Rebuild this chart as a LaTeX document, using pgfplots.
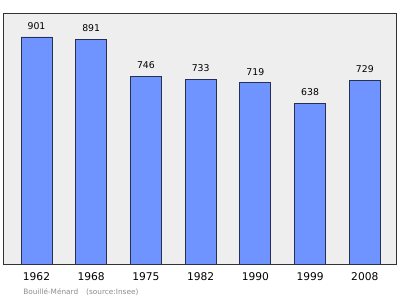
\documentclass[border=0pt]{standalone}
\usepackage{pgfplots}
\pgfplotsset{compat=1.18}
\usepackage{fontspec}
\setmainfont{DejaVu Sans}
\definecolor{bg}{RGB}{238,238,238}
\definecolor{barfill}{RGB}{111,148,255}
\definecolor{bardraw}{RGB}{40,48,80}
\begin{document}
\begin{tikzpicture}
\begin{axis}[
  name=ax,
  scale only axis,
  width=294pt, height=188.25pt,
  xmin=-0.594, xmax=6.57,
  ymin=0, ymax=996,
  axis background/.style={fill=bg},
  axis line style={draw=black!80, line width=0.75pt},
  ytick=\empty,
  xtick={0,1,2,3,4,5,6},
  xticklabels={1962,1968,1975,1982,1990,1999,2008},
  major tick length=0pt,
  xticklabel style={anchor=base, inner sep=0pt, yshift=-12.6pt, font=\fontsize{8}{9}\selectfont},
  /pgf/number format/assume math mode=true,
  ybar, bar width=23.25pt,
  nodes near coords,
  every node near coord/.append style={anchor=base, inner sep=0pt, yshift=5.7pt, font=\fontsize{7}{8}\selectfont, black},
  clip=false,
]
\addplot[fill=barfill, draw=bardraw, line width=0.6pt] coordinates {
  (0,901) (1,891) (2,746) (3,733) (4,719) (5,638) (6,729)
};
\end{axis}
\node[anchor=base west, inner sep=0pt, text=black!45, font=\fontsize{5.5}{6}\selectfont]
  at ([xshift=14.25pt, yshift=-22.5pt]ax.south west) {Bouillé-Ménard\hspace{6pt}(source:Insee)};
\useasboundingbox ([xshift=-3pt, yshift=-26.25pt]ax.south west) rectangle ([xshift=3pt, yshift=9.75pt]ax.north east);
\end{tikzpicture}
\end{document}
